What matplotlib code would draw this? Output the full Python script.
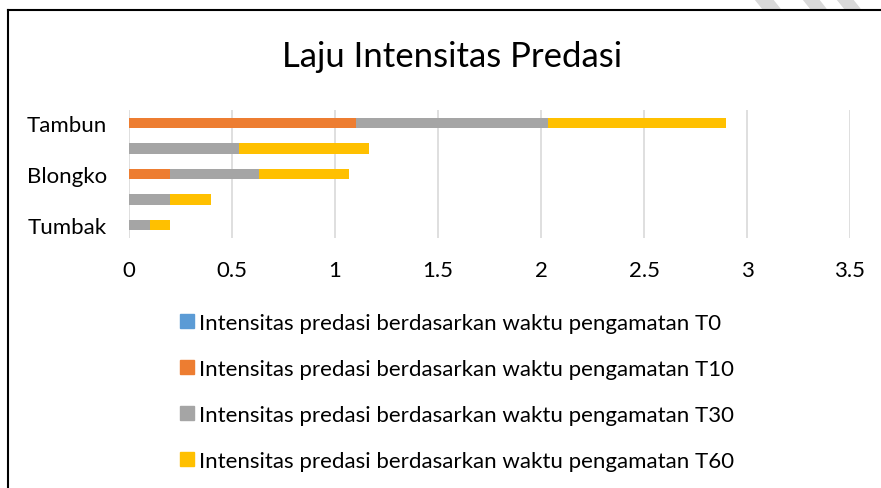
import matplotlib.pyplot as plt
from matplotlib.patches import Polygon
from matplotlib.lines import Line2D

plt.rcParams['font.family'] = ['Lato', 'DejaVu Sans']

# data
lokasi = ["Tumbak", "", "Blongko", "", "Tambun"]
t0 = [0, 0, 0, 0, 0]
t10 = [0, 0, 0.2, 0, 1.1]
t30 = [0.1, 0.2, 0.433, 0.533, 0.933]
t60 = [0.1, 0.2, 0.433, 0.633, 0.867]
seri = ["Intensitas predasi berdasarkan waktu pengamatan T0",
        "Intensitas predasi berdasarkan waktu pengamatan T10",
        "Intensitas predasi berdasarkan waktu pengamatan T30",
        "Intensitas predasi berdasarkan waktu pengamatan T60"]
warna = ["#5B9BD5", "#ED7D31", "#A5A5A5", "#FFC000"]
xticks = [0, 0.5, 1, 1.5, 2, 2.5, 3, 3.5]

fig = plt.figure(figsize=(8.81, 4.89), dpi=100)
ax = fig.add_axes([129 / 881, 1 - 239 / 489, 721 / 881, 128 / 489])

y = range(len(lokasi))
kiri = [0] * len(lokasi)
for nilai, w in zip([t0, t10, t30, t60], warna):
    ax.barh(y, nilai, left=kiri, height=0.4, color=w, zorder=3)
    kiri = [a + b for a, b in zip(kiri, nilai)]

ax.set_xlim(0, 3.5)
ax.set_ylim(-0.5, len(lokasi) - 0.5)
ax.set_xticks(xticks)
ax.set_xticklabels([f"{v:g}" for v in xticks])
ax.set_yticks(list(y))
ax.set_yticklabels(lokasi)
ax.tick_params(axis='both', length=0, labelsize=16, colors='black')
ax.tick_params(axis='x', pad=16)
ax.tick_params(axis='y', pad=16)
ax.grid(axis='x', color='#D9D9D9', linewidth=1.2, zorder=0)
for s in ax.spines.values():
    s.set_visible(False)

fig.text(452 / 881, 1 - 57 / 489, "Laju Intensitas Predasi", ha='center', va='center',
         fontsize=25)

handles = [Line2D([], [], marker='s', linestyle='none', markersize=10.5,
                  markerfacecolor=w, markeredgecolor=w) for w in warna]
fig.legend(handles, seri, loc='upper left', bbox_to_anchor=(179 / 881, 1 - 314 / 489),
           frameon=False, fontsize=16, handlelength=0.75, handletextpad=0.15,
           labelspacing=1.17, borderpad=0, borderaxespad=0)

# bingkai
fig.add_artist(Line2D([8 / 881, 8 / 881], [0, 1 - 11 / 489], color='black', lw=1.5,
                      transform=fig.transFigure))
fig.add_artist(Line2D([8 / 881, 1], [1 - 11 / 489, 1 - 11 / 489], color='black', lw=1.5,
                      transform=fig.transFigure))
for x0, x1 in [(755, 772), (803, 818), (837, 852)]:
    pts = [(x0, 0), (x1, 0), (x1 + 8, 10), (x0 + 8, 10)]
    fig.add_artist(Polygon([(px / 881, 1 - py / 489) for px, py in pts], closed=True,
                           color='#D9D9D9', transform=fig.transFigure))

fig.savefig("out.png", dpi=100)
